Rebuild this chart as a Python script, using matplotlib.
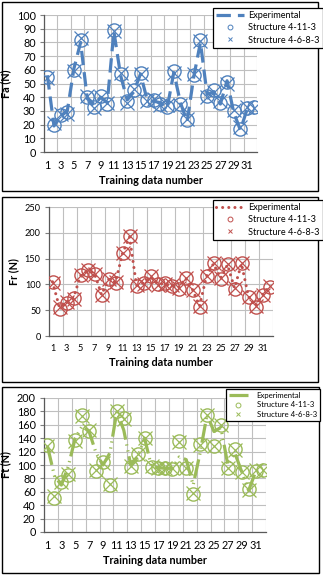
import matplotlib
matplotlib.use("Agg")
import matplotlib.pyplot as plt
from matplotlib.lines import Line2D
from matplotlib.patches import Rectangle
import numpy as np

plt.rcParams['font.family'] = ['Lato', 'DejaVu Sans']

# ---------------- data ----------------
n_points = 32
x_ticks = list(range(1, 32, 2))

fa_exp = [56, 19, 26, 30, 61, 80, 39, 34, 40, 36, 88, 56, 38, 44, 57, 38,
          37, 36, 32, 58, 36, 22, 55, 80, 42, 44, 35, 52, 29, 16, 31, 33]
fa_s1 = [55, 20, 27, 29, 60, 82, 40, 33, 41, 35, 89, 57, 37, 45, 58, 38,
         38, 35, 33, 59, 35, 23, 56, 82, 41, 45, 36, 51, 30, 17, 32, 33]
fa_s2 = [54, 21, 28, 28, 59, 83, 41, 32, 40, 36, 88, 58, 36, 46, 57, 37,
         39, 34, 34, 58, 34, 24, 57, 81, 40, 44, 37, 50, 31, 18, 33, 32]

fr_exp = [105, 55, 66, 74, 117, 126, 122, 80, 110, 104, 160, 192, 98, 103, 115, 101,
          101, 98, 93, 112, 90, 58, 116, 140, 112, 138, 93, 140, 76, 58, 80, 96]
fr_s1 = [104, 53, 64, 73, 118, 128, 121, 79, 111, 103, 161, 194, 97, 102, 116, 100,
         102, 97, 92, 113, 89, 57, 117, 142, 111, 140, 92, 142, 75, 57, 79, 95]
fr_s2 = [103, 56, 66, 72, 119, 127, 120, 80, 110, 104, 160, 193, 98, 101, 117, 99,
         101, 98, 93, 112, 90, 58, 116, 141, 112, 139, 93, 141, 76, 58, 80, 96]

ft_exp = [128, 84, 70, 98, 140, 158, 150, 118, 100, 118, 180, 152, 100, 112, 140, 97,
          96, 95, 95, 112, 108, 70, 118, 175, 150, 156, 100, 118, 90, 62, 90, 92]
ft_s1 = [130, 51, 75, 85, 137, 174, 151, 91, 104, 70, 181, 170, 97, 117, 141, 97,
         95, 96, 94, 136, 95, 57, 131, 175, 128, 160, 95, 124, 89, 64, 91, 92]
ft_s2 = [129, 53, 74, 86, 136, 173, 152, 92, 103, 71, 180, 169, 98, 116, 140, 98,
         96, 95, 95, 135, 96, 58, 130, 174, 129, 159, 96, 123, 90, 63, 92, 93]

legend_labels = ["Experimental", "Structure 4-11-3", "Structure 4-6-8-3"]
x_label = "Training data number"

W, H = 323, 580
fig = plt.figure(figsize=(W / 100, H / 100), dpi=100)


def rect(x0, y0, x1, y1):
    return [x0 / W, 1 - y1 / H, (x1 - x0) / W, (y1 - y0) / H]


def frame(x0, y0, x1, y1):
    fig.patches.append(Rectangle((x0 / W, 1 - y1 / H), (x1 - x0) / W, (y1 - y0) / H,
                                 transform=fig.transFigure, fill=False,
                                 edgecolor='black', linewidth=1.0))


panels = [
    dict(frame=(2, 2, 318, 191), ax=(44, 15, 257, 152), ylim=(0, 100), ystep=10,
         exp=fa_exp, s1=fa_s1, s2=fa_s2, color='#4F81BD', ylabel='Fa (N)',
         ls=(0, (4.5, 2.2)), lw=2.3, cap='butt', tick_fs=7.8, leg=(213, 8),
         leg_fs=6.6, xlab_y=181, hl=3.0, tp=0.45),
    dict(frame=(2, 197, 318, 382), ax=(49, 207, 273, 336), ylim=(0, 250), ystep=50,
         exp=fr_exp, s1=fr_s1, s2=fr_s2, color='#C0504D', ylabel='Fr (N)',
         ls=(0, (0.01, 2.0)), lw=2.2, cap='round', tick_fs=6.6, leg=(213, 200),
         leg_fs=6.6, xlab_y=363, hl=3.0, tp=0.45),
    dict(frame=(2, 387, 319, 573), ax=(44, 398, 266, 532), ylim=(0, 200), ystep=20,
         exp=ft_exp, s1=ft_s1, s2=ft_s2, color='#9BBB59', ylabel='Ft (N)',
         ls=(0, (6, 1.5, 0.4, 1.5, 0.4, 1.5)), lw=2.3, cap='butt', tick_fs=7.8,
         leg=(226, 389), leg_fs=5.6, xlab_y=560, hl=2.5, tp=1.1),
]

x = np.arange(1, n_points + 1)

for p in panels:
    frame(*p['frame'])
    ax = fig.add_axes(rect(*p['ax']))
    c = p['color']
    ax.plot(x, p['s1'], linestyle='none', marker='o', markersize=9.5,
            markerfacecolor='none', markeredgecolor=c, markeredgewidth=1.0, zorder=3)
    ax.plot(x, p['s2'], linestyle='none', marker='x', markersize=10.5,
            markeredgecolor=c, markeredgewidth=0.9, zorder=3)
    ax.plot(x, p['exp'], color=c, linestyle=p['ls'], linewidth=p['lw'],
            dash_capstyle=p['cap'], solid_capstyle=p['cap'], zorder=4)

    ax.set_xlim(0.5, n_points + 0.5)
    ax.set_ylim(*p['ylim'])
    ax.set_yticks(np.arange(p['ylim'][0], p['ylim'][1] + 1, p['ystep']))
    ax.set_xticks(x_ticks)
    ax.set_xticks(np.arange(0.5, n_points + 1, 2), minor=True)
    ax.tick_params(axis='x', which='both', length=0, labelsize=p['tick_fs'], pad=6)
    ax.tick_params(axis='y', length=3, width=0.8, color='#7f7f7f',
                   labelsize=p['tick_fs'], pad=3)
    ax.grid(True, axis='y', which='major', color='#bfbfbf', linewidth=0.8)
    ax.grid(True, axis='x', which='minor', color='#bfbfbf', linewidth=0.8)
    ax.set_axisbelow(True)
    for s in ['top', 'right']:
        ax.spines[s].set_visible(False)
    for s in ['left', 'bottom']:
        ax.spines[s].set_color('#595959')
        ax.spines[s].set_linewidth(0.9)
    ax.set_ylabel(p['ylabel'], fontsize=7.8, fontweight='bold', labelpad=4)
    x0, y0, x1, y1 = p['ax']
    fig.text((x0 + x1) / 2 / W, 1 - p['xlab_y'] / H, x_label,
             ha='center', va='center', fontsize=7.8, fontweight='bold')

    handles = [
        Line2D([], [], color=c, linestyle=p['ls'], linewidth=p['lw'],
               dash_capstyle=p['cap']),
        Line2D([], [], linestyle='none', marker='o', markersize=3.5,
               markerfacecolor='none', markeredgecolor=c, markeredgewidth=0.7),
        Line2D([], [], linestyle='none', marker='x', markersize=3.5,
               markeredgecolor=c, markeredgewidth=0.7),
    ]
    lx, ly = p['leg']
    leg = fig.legend(handles, legend_labels, loc='upper left',
                     bbox_to_anchor=(lx / W, 1 - ly / H), fontsize=p['leg_fs'],
                     frameon=True, fancybox=False, edgecolor='black',
                     framealpha=1, borderpad=0.35, handlelength=p['hl'],
                     handletextpad=p['tp'], labelspacing=0.35, borderaxespad=0)
    leg.get_frame().set_linewidth(0.9)

fig.savefig("out.png", dpi=100)
